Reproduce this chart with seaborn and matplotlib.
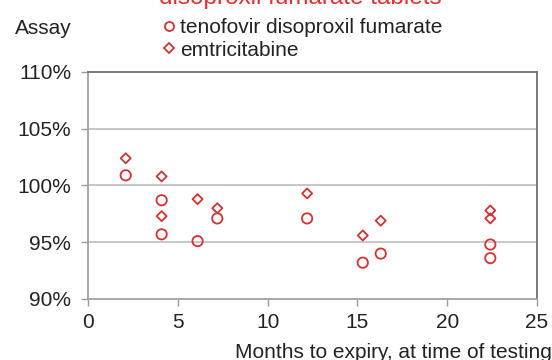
import matplotlib
matplotlib.use("Agg")
import matplotlib.pyplot as plt
import seaborn as sns
import pandas as pd
from matplotlib.lines import Line2D

# Assay results vs. months to expiry at time of testing
months = [2.1, 4.1, 4.1, 6.1, 7.2, 12.2, 15.3, 16.3, 22.4, 22.4]
tenofovir = [100.9, 98.7, 95.7, 95.1, 97.1, 97.1, 93.2, 94.0, 94.8, 93.6]
emtricitabine = [102.4, 100.8, 97.3, 98.8, 98.0, 99.3, 95.6, 96.9, 97.8, 97.1]
series_names = ["tenofovir disoproxil fumarate", "emtricitabine"]
y_ticks = [90, 95, 100, 105, 110]
x_ticks = [0, 5, 10, 15, 20, 25]

df_tdf = pd.DataFrame({"months": months, "assay": tenofovir})
df_ftc = pd.DataFrame({"months": months, "assay": emtricitabine})

sns.set_style("white")
plt.rcParams["font.family"] = ["Liberation Sans", "DejaVu Sans"]

red = "#d23232"
text_col = "#222222"
fig = plt.figure(figsize=(5.52, 3.6), dpi=100)
ax = fig.add_axes([88 / 552, 1 - 299 / 360, (537 - 88) / 552, (299 - 72) / 360])

sns.scatterplot(data=df_tdf, x="months", y="assay", marker="o", ax=ax,
                facecolor="none", edgecolor=red, linewidth=1.3, s=55, zorder=3)
sns.scatterplot(data=df_ftc, x="months", y="assay", marker="D", ax=ax,
                facecolor="none", edgecolor=red, linewidth=1.3, s=26, zorder=3)

ax.set_xlim(0, 25)
ax.set_ylim(90, 110)
ax.set_xticks(x_ticks)
ax.set_yticks(y_ticks)
ax.set_yticklabels([f"{v}%" for v in y_ticks])
ax.tick_params(axis="both", labelsize=15, colors=text_col, length=5,
               width=1, direction="out", left=True, bottom=True)
ax.tick_params(axis="y", pad=7)
ax.tick_params(axis="x", pad=5)
ax.tick_params(axis="both", color="#9a9a9a")
for v in [95, 100, 105]:
    ax.axhline(v, color="#bdbdbd", lw=1.2, zorder=1)
ax.spines["left"].set_color("#a0a0a0")
ax.spines["bottom"].set_color("#a0a0a0")
ax.spines["top"].set_color("#707070")
ax.spines["right"].set_color("#707070")
for s in ax.spines.values():
    s.set_linewidth(1.3)
ax.set_xlabel("")
ax.set_ylabel("")

fig.text(15 / 552, 1 - 28 / 360, "Assay", fontsize=15, color=text_col,
         ha="left", va="center")
fig.text(235 / 552, 1 - 352 / 360, "Months to expiry, at time of testing",
         fontsize=15, color=text_col, ha="left", va="center")
fig.text(300 / 552, 1 - 4 / 360, "disoproxil fumarate tablets",
         fontsize=17.5, color="#e03030", ha="center", va="baseline")

handles = [
    Line2D([], [], ls="none", marker="o", mfc="none", mec=red, mew=1.3, ms=6.5),
    Line2D([], [], ls="none", marker="D", mfc="none", mec=red, mew=1.3, ms=5),
]
fig.legend(handles, series_names, loc="upper left",
           bbox_to_anchor=(150 / 552, 1 - 8 / 360), frameon=False,
           fontsize=15, handlelength=0.8, handletextpad=0.15,
           labelspacing=0.15, borderpad=0, labelcolor=text_col)

fig.savefig("out.png", dpi=100)
